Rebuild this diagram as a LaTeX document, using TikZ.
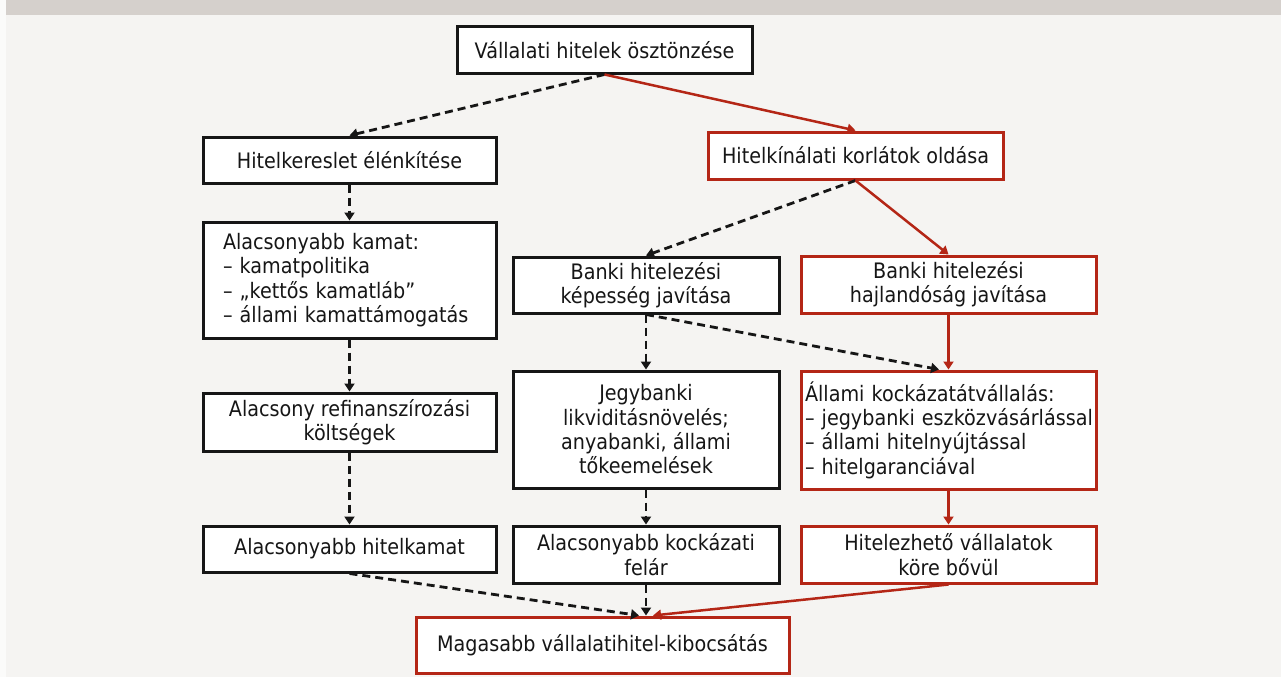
\documentclass[tikz,border=0pt]{standalone}
\usepackage{fontspec}
\setmainfont{DejaVu Sans}[FakeStretch=0.9]
\usetikzlibrary{arrows.meta}
\definecolor{bgcol}{RGB}{245,244,242}
\definecolor{bandcol}{RGB}{213,208,204}
\definecolor{boxred}{RGB}{180,38,22}
\definecolor{boxblack}{RGB}{22,22,22}
\tikzset{
  base/.style={rectangle, fill=white, line width=3pt, inner sep=0pt,
    font=\fontsize{21.3}{24.3}\selectfont, text=boxblack, align=center},
  blackbox/.style={base, draw=boxblack},
  redbox/.style={base, draw=boxred},
  dasharrow/.style={line width=2.8pt, draw=boxblack, dash pattern=on 8pt off 5pt,
    -{Triangle[length=8pt,width=10pt]}},
  redarrow/.style={line width=2.5pt, draw=boxred, -{Triangle[length=8pt,width=10pt]}}
}
\begin{document}
\begin{tikzpicture}[x=1pt,y=-1pt]
\useasboundingbox (0,0) rectangle (1281,677);
\fill[white!60!bgcol] (0,0) rectangle (1281,677);
\fill[bgcol] (6,15) rectangle (1281,677);
\fill[bandcol] (6,0) rectangle (1281,15);

\node[blackbox, minimum width=295pt, minimum height=46pt] (top) at (604.5,50) {Vállalati hitelek ösztönzése};
\node[blackbox, minimum width=293pt, minimum height=46pt] (kereslet) at (349.5,160) {Hitelkereslet élénkítése};
\node[redbox, minimum width=295pt, minimum height=47pt] (kinalat) at (855.5,155.5) {Hitelkínálati korlátok oldása};
\node[blackbox, minimum width=293pt, minimum height=116pt, text width=253pt, inner xsep=20pt, align=left] (kamat) at (349.5,280)
  {Alacsonyabb kamat:\\– kamatpolitika\\– „kettős kamatláb”\\– állami kamattámogatás};
\node[blackbox, minimum width=266pt, minimum height=56pt] (kepesseg) at (646,285) {Banki hitelezési\\képesség javítása};
\node[redbox, minimum width=295pt, minimum height=57pt] (hajlandosag) at (948.5,284.5) {Banki hitelezési\\hajlandóság javítása};
\node[blackbox, minimum width=293pt, minimum height=58pt] (refi) at (349.5,422) {Alacsony refinanszírozási\\költségek};
\node[blackbox, minimum width=266pt, minimum height=117pt] (jegy) at (646,429.5) {Jegybanki\\likviditásnövelés;\\anyabanki, állami\\tőkeemelések};
\node[redbox, minimum width=295pt, minimum height=118pt, text width=287pt, inner xsep=4pt, align=left] (allami) at (948.5,430)
  {\mbox{Állami kockázatátvállalás:}\\\mbox{– jegybanki eszközvásárlással}\\\mbox{– állami hitelnyújtással}\\\mbox{– hitelgaranciával}};
\node[blackbox, minimum width=293pt, minimum height=46pt] (hitelkamat) at (349.5,549) {Alacsonyabb hitelkamat};
\node[blackbox, minimum width=266pt, minimum height=57pt] (felar) at (646,554.5) {Alacsonyabb kockázati\\felár};
\node[redbox, minimum width=295pt, minimum height=57pt] (hitelezheto) at (948.5,554.5) {Hitelezhető vállalatok\\köre bővül};
\node[redbox, minimum width=373pt, minimum height=56pt] (magasabb) at (602.5,645) {Magasabb vállalatihitel-kibocsátás};

\draw[dasharrow] (top.south) -- (kereslet.north);
\draw[redarrow] (top.south) -- (kinalat.north);
\draw[dasharrow] (kereslet.south) -- (kamat.north);
\draw[dasharrow] (kamat.south) -- (refi.north);
\draw[dasharrow] (refi.south) -- (hitelkamat.north);
\draw[dasharrow] (kinalat.south) -- (kepesseg.north);
\draw[redarrow] (kinalat.south) -- (hajlandosag.north);
\draw[dasharrow] (kepesseg.south) -- (jegy.north);
\draw[dasharrow] (kepesseg.south) -- ([xshift=-9.5pt]allami.north);
\draw[redarrow] (hajlandosag.south) -- (allami.north);
\draw[dasharrow] (jegy.south) -- (felar.north);
\draw[redarrow] (allami.south) -- (hitelezheto.north);
\draw[dasharrow] (hitelkamat.south) -- ([xshift=36.5pt]magasabb.north);
\draw[dasharrow] (felar.south) -- (felar.south |- magasabb.north);
\draw[redarrow] (hitelezheto.south) -- ([xshift=50.5pt]magasabb.north);
\end{tikzpicture}
\end{document}
